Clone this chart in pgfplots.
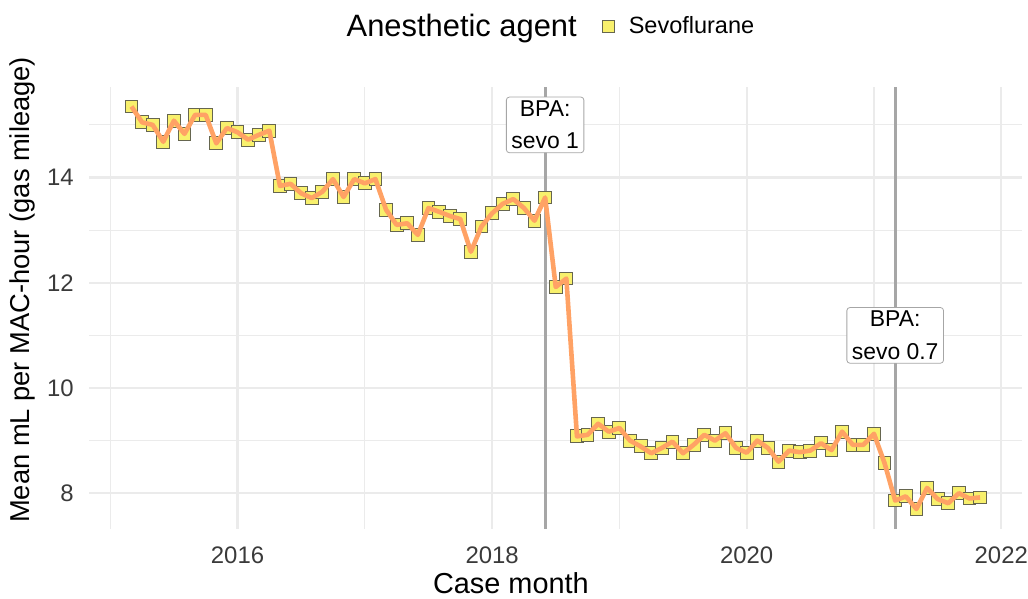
\documentclass[border=0pt]{standalone}
\usepackage{fontspec}
\setmainfont{Liberation Sans}
\usepackage{pgfplots}
\usepackage{pgfplotstable}
\pgfplotsset{compat=1.18}
\definecolor{sqfill}{HTML}{F8F06C}
\definecolor{sqdraw}{HTML}{66664F}
\definecolor{linec}{HTML}{FFA265}
\definecolor{gridc}{HTML}{EBEBEB}
\definecolor{vlinec}{HTML}{A6A6A6}
\definecolor{txt}{HTML}{3A3A3A}
\pgfplotstableread{
m v
2 15.35
3 15.05
4 15.00
5 14.68
6 15.08
7 14.83
8 15.19
9 15.19
10 14.65
11 14.94
12 14.86
13 14.72
14 14.81
15 14.89
16 13.84
17 13.88
18 13.70
19 13.61
20 13.73
21 13.97
22 13.63
23 13.97
24 13.89
25 13.97
26 13.39
27 13.10
28 13.13
29 12.91
30 13.42
31 13.35
32 13.27
33 13.21
34 12.59
35 13.07
36 13.32
37 13.50
38 13.59
39 13.42
40 13.18
41 13.62
42 11.92
43 12.08
44 9.08
45 9.11
46 9.32
47 9.17
48 9.24
49 9.00
50 8.89
51 8.76
52 8.86
53 8.98
54 8.76
55 8.92
56 9.11
57 9.00
58 9.14
59 8.86
60 8.77
61 9.00
62 8.86
63 8.60
64 8.81
65 8.78
66 8.81
67 8.95
68 8.82
69 9.17
70 8.92
71 8.92
72 9.13
73 8.57
74 7.86
75 7.94
76 7.70
77 8.10
78 7.89
79 7.81
80 8.00
81 7.90
82 7.92
}\sevo
\pgfplotsset{panel/.style={
  scale only axis, width=466.75bp, height=221bp,
  at={(0,0)}, anchor=south west,
  xmin=-2, xmax=86, ymin=7.32, ymax=15.72,
  clip=false}}
\begin{document}
\begin{tikzpicture}
\path[use as bounding box] (-44.5bp,-35bp) rectangle (469.5bp,264.5bp);
\begin{axis}[
  panel,
  axis line style={draw=none},
  major tick length=0pt, minor tick length=0pt,
  xtick={12,36,60,84}, xticklabels={2016,2018,2020,2022},
  minor xtick={0,24,48,72},
  ytick={8,10,12,14}, minor ytick={9,11,13,15},
  /pgf/number format/assume math mode=true,
  grid=both,
  major grid style={gridc, line width=1.1bp},
  minor grid style={gridc, line width=0.55bp},
  tick label style={font=\fontsize{12}{14}\selectfont, text=txt},
  xticklabel style={anchor=north, inner sep=0pt, yshift=-8.5bp},
  yticklabel style={anchor=east, inner sep=0pt, xshift=-7.5bp},
  xlabel={Case month},
  ylabel={Mean mL per MAC-hour (gas mileage)},
  xlabel style={font=\fontsize{14.5}{17}\selectfont, at={(axis description cs:0.452,-0.1448)}, anchor=base},
  ylabel style={font=\fontsize{13.7}{16}\selectfont, at={(axis description cs:-0.0718,0.541)}, anchor=center},
  legend columns=-1,
  legend style={draw=none, fill=none, at={(axis description cs:0.489,1.136)}, anchor=center,
    /tikz/every odd column/.style={column sep=5bp},
    /tikz/every even column/.style={column sep=10.5bp},
    font=\fontsize{11.8}{14}\selectfont},
]
\addplot[vlinec, line width=1.6bp, forget plot] coordinates {(41,7.32) (41,15.72)};
\addplot[vlinec, line width=1.6bp, forget plot] coordinates {(74,7.32) (74,15.72)};
\addplot[only marks, mark=square*, mark size=3.2bp, forget plot,
  mark options={fill=sqfill, draw=sqdraw, line width=0.5bp}] table[x=m, y=v] {\sevo};
\addlegendimage{empty legend}
\addlegendentry{\fontsize{15.5}{17}\selectfont Anesthetic agent}
\addlegendimage{legend image code/.code={\draw[sqdraw, fill=sqfill, line width=0.5bp] (0bp,-3bp) rectangle (6bp,3bp);}}
\addlegendentry{Sevoflurane}
\end{axis}
\begin{axis}[panel, hide axis]
\addplot[linec, line width=2.3bp, line join=round] table[x=m, y=v] {\sevo};
\node[draw=gray!70, fill=white, rounded corners=1.5bp, align=center,
  font=\fontsize{11.5}{16.3}\selectfont, inner xsep=2.5bp, inner ysep=1.8bp]
  at (axis cs:41,15) {BPA:\\sevo 1};
\node[draw=gray!70, fill=white, rounded corners=1.5bp, align=center,
  font=\fontsize{11.5}{16.3}\selectfont, inner xsep=2.5bp, inner ysep=1.8bp]
  at (axis cs:74,11) {BPA:\\sevo 0.7};
\end{axis}
\end{tikzpicture}
\end{document}
